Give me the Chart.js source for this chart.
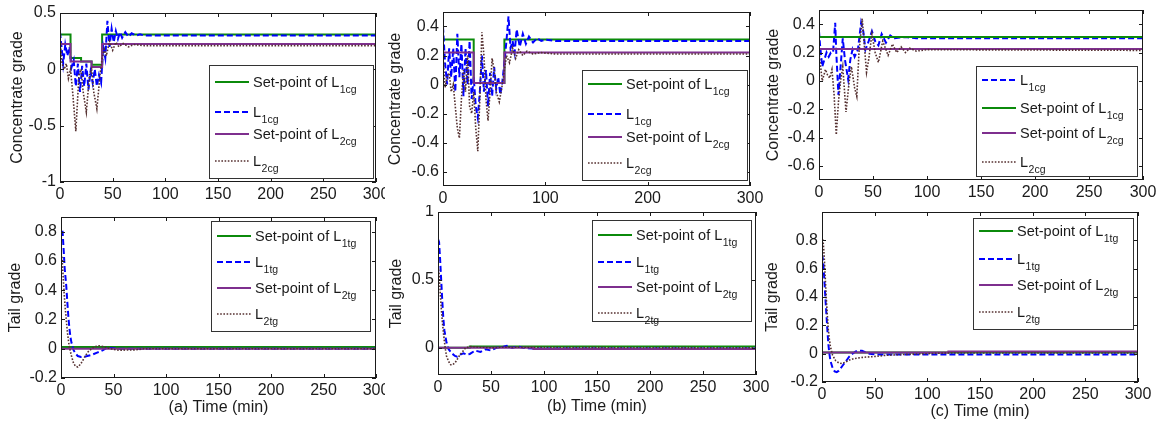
<!DOCTYPE html>
<html>
<head>
<meta charset="utf-8">
<script src="https://cdn.jsdelivr.net/npm/chart.js@4.4.1/dist/chart.umd.min.js"></script>
<style>
  body { margin: 0; background: #fff; }
  #fig { position: relative; width: 1160px; height: 425px; overflow: hidden; background: #fff; }
  #fig canvas { position: absolute; }
</style>
</head>
<body>
<div id="fig">
  <canvas id="cg-a" width="385" height="205" style="left:0px;top:0px"></canvas>
  <canvas id="cg-b" width="385" height="205" style="left:385px;top:0px"></canvas>
  <canvas id="cg-c" width="395" height="205" style="left:765px;top:0px"></canvas>
  <canvas id="tg-a" width="385" height="220" style="left:0px;top:205px"></canvas>
  <canvas id="tg-b" width="385" height="220" style="left:385px;top:205px"></canvas>
  <canvas id="tg-c" width="395" height="220" style="left:765px;top:205px"></canvas>
</div>
<script>
/* ============================
   Datos (tiempo en min, valor de ley)
============================ */
const X_TICKS_50 = [0, 50, 100, 150, 200, 250, 300]
const X_TICKS_100 = [0, 100, 200, 300]
const Y_TICKS_CG_A = [-1, -0.5, 0, 0.5]
const Y_TICKS_CG_BC = [-0.6, -0.4, -0.2, 0, 0.2, 0.4]
const Y_TICKS_TG_A = [-0.2, 0, 0.2, 0.4, 0.6, 0.8]
const Y_TICKS_TG_B = [0, 0.5, 1]
const Y_TICKS_TG_C = [-0.2, 0, 0.2, 0.4, 0.6, 0.8]

// (a) concentrate grade
const a_sp1cg = [[0, 0.31], [10, 0.1], [20, 0.07], [30, 0.04], [40, 0.31], [300, 0.31]]
const a_sp2cg = [[0, 0.225], [10, 0.07], [30, 0.02], [40, 0.225], [300, 0.225]]
const a_l1cg = [[0, 0.33], [2, 0.15], [3, 0.05], [5, 0.22], [7, 0.12], [9, 0.2], [11, 0.02], [13, 0.08], [15, -0.15],
  [17, 0.05], [19, -0.2], [21, 0.03], [23, -0.15], [25, 0.05], [27, -0.18], [29, -0.02], [31, -0.12], [33, 0.0],
  [35, -0.15], [37, -0.05], [39, -0.12], [41, 0.2], [43, 0.1], [45, 0.43], [47, 0.2], [49, 0.36], [51, 0.24],
  [53, 0.34], [55, 0.27], [57, 0.33], [59, 0.28], [62, 0.33], [65, 0.29], [68, 0.32], [72, 0.3], [76, 0.31],
  [80, 0.3], [90, 0.3], [300, 0.3]]
const a_l2cg = [[0, 0.27], [2, 0.05], [4, 0.0], [6, 0.05], [8, -0.08], [10, 0.0], [12, -0.2], [15, -0.55], [18, -0.05],
  [20, 0.0], [22, -0.2], [25, -0.38], [28, -0.05], [30, 0.0], [32, -0.2], [35, -0.35], [38, -0.05], [40, 0.1],
  [42, 0.18], [44, 0.12], [47, 0.25], [50, 0.17], [53, 0.24], [56, 0.2], [60, 0.23], [65, 0.2], [70, 0.22],
  [80, 0.21], [300, 0.21]]

// (b) concentrate grade
const b_sp1cg = [[0, 0.31], [30, 0.01], [60, 0.31], [300, 0.31]]
const b_sp2cg = [[0, 0.22], [30, 0.01], [60, 0.22], [300, 0.22]]
const b_l1cg = [[0, 0.4], [2, 0.15], [4, 0.0], [6, 0.25], [8, 0.05], [10, 0.25], [12, -0.05], [14, 0.35], [16, 0.05],
  [18, 0.28], [20, -0.08], [22, 0.25], [24, 0.0], [26, 0.3], [28, -0.1], [30, 0.05], [32, -0.15], [34, -0.23],
  [36, -0.05], [38, 0.2], [40, -0.05], [42, 0.1], [44, -0.15], [46, 0.08], [48, -0.08], [50, 0.12], [52, -0.03],
  [54, 0.05], [56, -0.07], [58, 0.02], [60, 0.15], [62, 0.3], [64, 0.47], [66, 0.25], [68, 0.3], [70, 0.22],
  [72, 0.38], [75, 0.26], [78, 0.35], [81, 0.28], [84, 0.33], [88, 0.29], [92, 0.32], [96, 0.3], [100, 0.31],
  [110, 0.3], [300, 0.3]]
const b_l2cg = [[0, 0.2], [2, -0.02], [4, 0.05], [6, 0.08], [8, -0.05], [10, 0.0], [12, -0.15], [14, -0.3], [16, -0.37],
  [18, -0.1], [20, 0.1], [22, -0.05], [24, 0.2], [26, -0.15], [28, -0.2], [30, -0.05], [32, -0.3], [34, -0.46],
  [36, -0.1], [38, 0.36], [40, 0.2], [42, -0.1], [44, -0.25], [46, -0.05], [48, 0.18], [50, 0.1], [52, -0.05],
  [55, -0.12], [58, 0.0], [60, 0.1], [62, 0.2], [65, 0.15], [68, 0.25], [71, 0.18], [74, 0.24], [78, 0.2],
  [82, 0.23], [88, 0.21], [95, 0.22], [110, 0.21], [300, 0.21]]

// (c) concentrate grade
const c_sp1cg = [[0, 0.31], [300, 0.31]]
const c_sp2cg = [[0, 0.225], [300, 0.225]]
const c_l1cg = [[0, 0.35], [1, 0.25], [3, 0.1], [5, 0.15], [7, 0.2], [9, 0.17], [11, 0.2], [13, 0.2], [15, 0.41],
  [16, 0.2], [18, -0.1], [20, 0.1], [22, 0.3], [24, 0.15], [27, 0.01], [29, 0.15], [31, 0.22], [33, 0.17],
  [36, 0.22], [39, 0.41], [41, 0.35], [43, 0.22], [46, 0.28], [49, 0.35], [52, 0.28], [55, 0.25], [58, 0.33],
  [62, 0.27], [66, 0.32], [70, 0.3], [80, 0.31], [90, 0.3], [300, 0.3]]
const c_l2cg = [[0, 0.2], [3, 0.0], [6, 0.08], [8, 0.04], [10, 0.02], [12, 0.08], [14, -0.1], [16, -0.38], [18, -0.15],
  [20, 0.0], [22, 0.1], [25, -0.22], [28, 0.0], [30, 0.1], [33, -0.05], [35, -0.11], [37, 0.2], [40, 0.44],
  [42, 0.25], [44, 0.06], [46, 0.15], [49, 0.33], [52, 0.2], [55, 0.13], [59, 0.28], [64, 0.18], [68, 0.26],
  [72, 0.2], [76, 0.24], [80, 0.2], [84, 0.23], [90, 0.21], [100, 0.22], [300, 0.215]]

// (a) tail grade
const a_sp1tg = [[0, 0.012], [300, 0.012]]
const a_sp2tg = [[0, 0.0], [300, 0.0]]
const a_l1tg = [[0, 0.8], [1.5, 0.8], [2.5, 0.68], [3.5, 0.55], [5, 0.43], [6, 0.32], [7, 0.22], [8, 0.14],
  [9, 0.08], [10, 0.04], [12, -0.01], [14, -0.035], [16, -0.05], [19, -0.057], [22, -0.055], [25, -0.05],
  [30, -0.04], [35, -0.025], [40, -0.01], [43, 0.004], [48, 0.005], [55, 0.0], [300, 0.0]]
const a_l2tg = [[0, 0.65], [1, 0.62], [2, 0.5], [3, 0.38], [4, 0.28], [5, 0.2], [6, 0.12], [7, 0.06], [8, 0.01],
  [10, -0.05], [12, -0.1], [14, -0.12], [16, -0.125], [18, -0.11], [20, -0.09], [23, -0.05], [26, -0.02],
  [30, 0.005], [33, 0.015], [36, 0.02], [40, 0.015], [45, 0.005], [50, -0.005], [55, -0.01], [70, -0.008],
  [80, 0.0], [300, 0.0]]

// (b) tail grade
const b_sp1tg = [[0, 0.0], [30, 0.01], [300, 0.01]]
const b_sp2tg = [[0, 0.0], [90, -0.008], [300, -0.008]]
const b_l1tg = [[0, 0.8], [1, 0.78], [2, 0.65], [3, 0.5], [4, 0.35], [5, 0.22], [6, 0.13], [8, 0.04], [10, -0.01],
  [13, -0.04], [16, -0.06], [18, -0.065], [21, -0.05], [24, -0.04], [27, -0.05], [30, -0.045], [35, -0.02],
  [40, -0.03], [45, -0.01], [50, -0.02], [55, 0.0], [60, 0.005], [65, 0.015], [70, 0.0], [75, 0.01], [80, 0.0],
  [90, -0.005], [300, -0.005]]
const b_l2tg = [[0, 0.6], [1, 0.55], [2, 0.42], [3, 0.3], [4, 0.2], [5, 0.12], [6, 0.05], [7, -0.01], [8, -0.06],
  [10, -0.1], [12, -0.125], [14, -0.125], [17, -0.1], [20, -0.06], [23, -0.03], [26, 0.0], [30, 0.01],
  [40, 0.005], [50, 0.0], [60, 0.005], [300, 0.0]]

// (c) tail grade
const c_sp1tg = [[0, 0.008], [300, 0.008]]
const c_sp2tg = [[0, 0.008], [120, 0.015], [300, 0.015]]
const c_l1tg = [[0, 0.7], [1, 0.66], [2, 0.55], [3, 0.42], [4, 0.3], [5, 0.18], [6, 0.07], [7, 0.0], [8, -0.05],
  [10, -0.1], [12, -0.125], [14, -0.13], [16, -0.12], [18, -0.1], [20, -0.08], [23, -0.05], [26, -0.02],
  [29, 0.0], [32, 0.015], [35, 0.02], [38, 0.02], [41, 0.01], [45, 0.0], [50, -0.005], [300, -0.005]]
const c_l2tg = [[0, 0.8], [1, 0.8], [2, 0.7], [3, 0.55], [4, 0.4], [5, 0.28], [6, 0.17], [7, 0.1], [8, 0.05],
  [10, -0.01], [13, -0.05], [16, -0.065], [19, -0.07], [22, -0.06], [26, -0.045], [30, -0.035], [35, -0.03],
  [40, -0.025], [50, -0.02], [60, -0.012], [70, -0.008], [80, -0.005], [100, 0.0], [120, 0.005], [300, 0.005]]

/* ============================
   Estilos
============================ */
const FONT = "'Liberation Sans', Arial, Helvetica, sans-serif"
const STYLE = {
  sp1: { color: '#0b8a0b', width: 2, dash: [], stepped: 'before' },
  l1: { color: '#0000ff', width: 2, dash: [6, 3], stepped: false },
  sp2: { color: '#7e2f8e', width: 2, dash: [], stepped: 'before' },
  l2: { color: '#553030', width: 1.6, dash: [1.6, 1.6], stepped: false }
}

// helper: series
const S = (kind, data, main, sub) => ({ kind, data, main, sub })

const PANELS = [
  {
    id: 'cg-a', yTitle: 'Concentrate grade', xTitle: '', yMin: -1, yMax: 0.5, yTicks: Y_TICKS_CG_A, xTicks: X_TICKS_50,
    plot: { l: 60, t: 13, r: 376, b: 182 }, yTitlePad: 10, xTitlePad: 0, tickPad: 3,
    legend: { x: 209, y: 65, w: 164, h: 113, rows: [82, 112, 134, 161] },
    series: [S('sp1', a_sp1cg, 'Set-point of L', '1cg'), S('l1', a_l1cg, 'L', '1cg'),
      S('sp2', a_sp2cg, 'Set-point of L', '2cg'), S('l2', a_l2cg, 'L', '2cg')]
  },
  {
    id: 'cg-b', yTitle: 'Concentrate grade', xTitle: '', yMin: -0.7, yMax: 0.5, yTicks: Y_TICKS_CG_BC, xTicks: X_TICKS_100,
    plot: { l: 58, t: 12, r: 365, b: 186 }, yTitlePad: 3, xTitlePad: 0, tickPad: 3,
    legend: { x: 197, y: 70, w: 165, h: 110, rows: [84, 114, 137, 163] },
    series: [S('sp1', b_sp1cg, 'Set-point of L', '1cg'), S('l1', b_l1cg, 'L', '1cg'),
      S('sp2', b_sp2cg, 'Set-point of L', '2cg'), S('l2', b_l2cg, 'L', '2cg')]
  },
  {
    id: 'cg-c', yTitle: 'Concentrate grade', xTitle: '', yMin: -0.7, yMax: 0.5, yTicks: Y_TICKS_CG_BC, xTicks: X_TICKS_50,
    plot: { l: 54, t: 10, r: 378, b: 180 }, yTitlePad: 1, xTitlePad: 0, tickPad: 3,
    legend: { x: 211, y: 66, w: 161, h: 110, rows: [80, 108, 133, 162] },
    series: [S('l1', c_l1cg, 'L', '1cg'), S('sp1', c_sp1cg, 'Set-point of L', '1cg'),
      S('sp2', c_sp2cg, 'Set-point of L', '2cg'), S('l2', c_l2cg, 'L', '2cg')]
  },
  {
    id: 'tg-a', yTitle: 'Tail grade', xTitle: '(a) Time (min)', yMin: -0.2, yMax: 0.9, yTicks: Y_TICKS_TG_A, xTicks: X_TICKS_50,
    plot: { l: 61, t: 12, r: 376, b: 173 }, yTitlePad: 8, xTitlePad: 9, tickPad: 3,
    legend: { x: 211, y: 16, w: 159, h: 110, rows: [31, 57, 83, 109] },
    series: [S('sp1', a_sp1tg, 'Set-point of L', '1tg'), S('l1', a_l1tg, 'L', '1tg'),
      S('sp2', a_sp2tg, 'Set-point of L', '2tg'), S('l2', a_l2tg, 'L', '2tg')]
  },
  {
    id: 'tg-b', yTitle: 'Tail grade', xTitle: '(b) Time (min)', yMin: -0.2, yMax: 1, yTicks: Y_TICKS_TG_B, xTicks: X_TICKS_50,
    plot: { l: 53, t: 7, r: 371, b: 170 }, yTitlePad: 4, xTitlePad: 10, tickPad: 3,
    legend: { x: 207, y: 15, w: 159, h: 101, rows: [30, 57, 82, 108] },
    series: [S('sp1', b_sp1tg, 'Set-point of L', '1tg'), S('l1', b_l1tg, 'L', '1tg'),
      S('sp2', b_sp2tg, 'Set-point of L', '2tg'), S('l2', b_l2tg, 'L', '2tg')]
  },
  {
    id: 'tg-c', yTitle: 'Tail grade', xTitle: '(c) Time (min)', yMin: -0.2, yMax: 1, yTicks: Y_TICKS_TG_C, xTicks: X_TICKS_50,
    plot: { l: 57, t: 7, r: 373, b: 177 }, yTitlePad: 0, xTitlePad: 5, tickPad: 3,
    legend: { x: 208, y: 13, w: 160, h: 111, rows: [26, 54, 80, 107] },
    series: [S('sp1', c_sp1tg, 'Set-point of L', '1tg'), S('l1', c_l1tg, 'L', '1tg'),
      S('sp2', c_sp2tg, 'Set-point of L', '2tg'), S('l2', c_l2tg, 'L', '2tg')]
  }
]

const PANEL_BY_ID = {}
PANELS.forEach(p => { PANEL_BY_ID[p.id] = p })

/* ============================
   Plugin: marco, ticks internos y leyenda
============================ */
const figFrame = {
  id: 'figFrame',
  afterDraw(chart) {
    const p = PANEL_BY_ID[chart.canvas.id]
    if (!p) return
    const ctx = chart.ctx
    const { left, top, right, bottom } = chart.chartArea
    const xs = chart.scales.x
    const ys = chart.scales.y
    ctx.save()
    ctx.setLineDash([])
    ctx.strokeStyle = '#1a1a1a'
    ctx.lineWidth = 1
    ctx.strokeRect(left + 0.5, top + 0.5, right - left - 1, bottom - top - 1)

    // ticks hacia dentro
    const TL = 4
    ctx.beginPath()
    p.xTicks.forEach(v => {
      const px = Math.round(xs.getPixelForValue(v)) + 0.5
      ctx.moveTo(px, bottom); ctx.lineTo(px, bottom - TL)
      ctx.moveTo(px, top); ctx.lineTo(px, top + TL)
    })
    p.yTicks.forEach(v => {
      const py = Math.round(ys.getPixelForValue(v)) + 0.5
      ctx.moveTo(left, py); ctx.lineTo(left + TL, py)
      ctx.moveTo(right, py); ctx.lineTo(right - TL, py)
    })
    ctx.stroke()

    // leyenda
    const lg = p.legend
    ctx.fillStyle = '#fff'
    ctx.fillRect(lg.x, lg.y, lg.w, lg.h)
    ctx.strokeStyle = '#333'
    ctx.strokeRect(lg.x + 0.5, lg.y + 0.5, lg.w, lg.h)
    p.series.forEach((s, i) => {
      const st = STYLE[s.kind]
      const y = lg.rows[i]
      ctx.strokeStyle = st.color
      ctx.lineWidth = st.width
      ctx.setLineDash(st.dash)
      ctx.beginPath()
      ctx.moveTo(lg.x + 6, y)
      ctx.lineTo(lg.x + 40, y)
      ctx.stroke()
      ctx.setLineDash([])
      ctx.fillStyle = '#1a1a1a'
      ctx.textAlign = 'left'
      ctx.textBaseline = 'alphabetic'
      ctx.font = `14.5px ${FONT}`
      const tx = lg.x + 44
      ctx.fillText(s.main, tx, y + 5)
      const w = ctx.measureText(s.main).width
      ctx.font = `10.5px ${FONT}`
      ctx.fillText(s.sub, tx + w + 0.5, y + 11)
    })
    ctx.restore()
  }
}

/* ============================
   Construcción de los gráficos
============================ */
function buildPanel(p) {
  const canvas = document.getElementById(p.id)
  const W = canvas.width
  const H = canvas.height
  const n = p.series.length

  const datasets = p.series.map((s, i) => {
    const st = STYLE[s.kind]
    return {
      label: s.main + s.sub,
      data: s.data.map(([x, y]) => ({ x, y })),
      borderColor: st.color,
      borderWidth: st.width,
      borderDash: st.dash,
      stepped: st.stepped,
      pointRadius: 0,
      fill: false,
      tension: 0,
      order: n - i
    }
  })

  return new Chart(canvas, {
    type: 'line',
    data: { datasets },
    options: {
      responsive: false,
      animation: false,
      events: [],
      layout: { padding: { left: 0, top: p.plot.t, right: W - p.plot.r, bottom: 0 } },
      plugins: { legend: { display: false }, tooltip: { enabled: false } },
      scales: {
        x: {
          type: 'linear', min: 0, max: 300,
          grid: { display: false, drawTicks: false },
          border: { display: false },
          afterBuildTicks: sc => { sc.ticks = p.xTicks.map(v => ({ value: v })) },
          afterFit: sc => { sc.height = H - p.plot.b; sc.paddingLeft = 0; sc.paddingRight = 0 },
          ticks: {
            padding: p.tickPad, maxRotation: 0, autoSkip: false, color: '#1a1a1a',
            font: { family: FONT, size: 16 },
            callback: v => String(v)
          },
          title: {
            display: !!p.xTitle, text: p.xTitle, color: '#1a1a1a',
            font: { family: FONT, size: 16, lineHeight: 1 },
            padding: { top: 0, bottom: p.xTitlePad }
          }
        },
        y: {
          type: 'linear', min: p.yMin, max: p.yMax,
          grid: { display: false, drawTicks: false },
          border: { display: false },
          afterBuildTicks: sc => { sc.ticks = p.yTicks.map(v => ({ value: v })) },
          afterFit: sc => { sc.width = p.plot.l; sc.paddingTop = 0; sc.paddingBottom = 0 },
          ticks: {
            padding: 4, autoSkip: false, color: '#1a1a1a',
            font: { family: FONT, size: 16 },
            callback: v => String(+Number(v).toFixed(2))
          },
          title: {
            display: true, text: p.yTitle, color: '#1a1a1a',
            font: { family: FONT, size: 16, lineHeight: 1 },
            padding: { top: p.yTitlePad, bottom: 0 }
          }
        }
      }
    },
    plugins: [figFrame]
  })
}

PANELS.forEach(buildPanel)
</script>
</body>
</html>
